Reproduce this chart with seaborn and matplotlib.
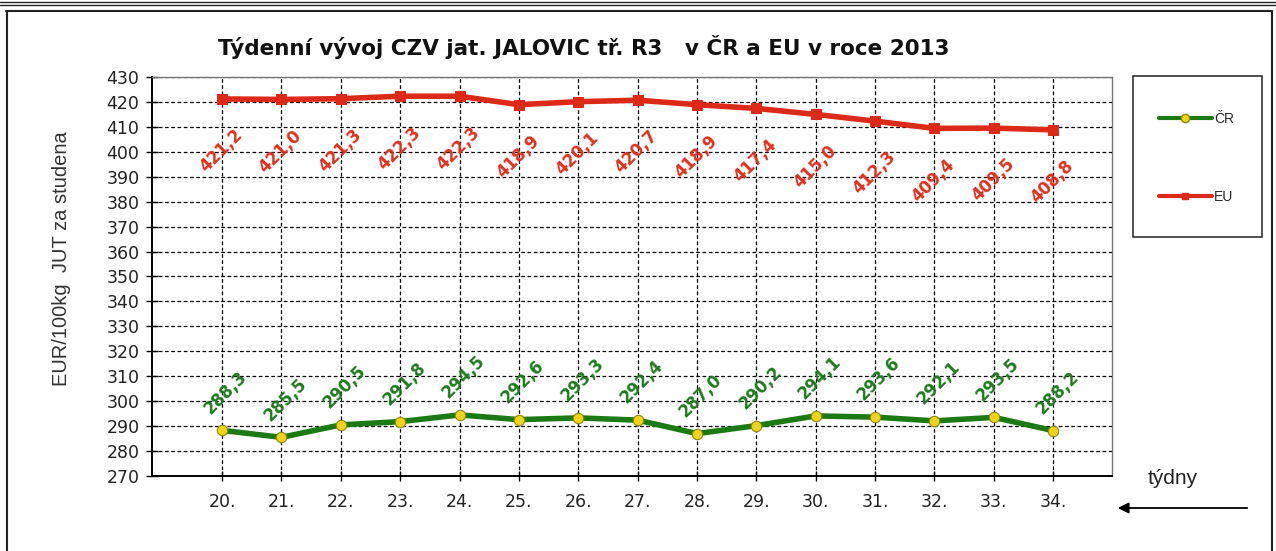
import matplotlib
matplotlib.use("Agg")
import matplotlib.pyplot as plt
from matplotlib.patches import Rectangle, FancyArrowPatch
from matplotlib.lines import Line2D
import seaborn as sns
import pandas as pd

weeks = ["20.", "21.", "22.", "23.", "24.", "25.", "26.", "27.", "28.", "29.", "30.", "31.", "32.", "33.", "34."]
cr_values = [288.3, 285.5, 290.5, 291.8, 294.5, 292.6, 293.3, 292.4, 287.0, 290.2, 294.1, 293.6, 292.1, 293.5, 288.2]
eu_values = [421.2, 421.0, 421.3, 422.3, 422.3, 418.9, 420.1, 420.7, 418.9, 417.4, 415.0, 412.3, 409.4, 409.5, 408.8]
yticks = list(range(270, 431, 10))

title = "Týdenní vývoj CZV jat. JALOVIC tř. R3   v ČR a EU v roce 2013"
ylabel = "EUR/100kg  JUT za studena"
xlabel = "týdny"

sns.set_theme(style="white")
plt.rcParams['font.family'] = ['DejaVu Sans']

W, H = 1276, 551
fig = plt.figure(figsize=(W / 100, H / 100), dpi=100)
fig.patch.set_facecolor("white")

def fx(px):
    return px / W

def fy(py):
    return 1 - py / H

ax = fig.add_axes([fx(152), fy(476), fx(1112) - fx(152), fy(77) - fy(476)])

idx = list(range(len(weeks)))
df_cr = pd.DataFrame({"x": idx, "y": cr_values})
df_eu = pd.DataFrame({"x": idx, "y": eu_values})

green = "#1b7a14"
red = "#dc2a18"

sns.lineplot(data=df_cr, x="x", y="y", ax=ax, color=green, linewidth=4.0,
             marker="o", markersize=7.5, markerfacecolor="#f2d21b",
             markeredgecolor="#8a8a10", markeredgewidth=0.8, zorder=5)
sns.lineplot(data=df_eu, x="x", y="y", ax=ax, color=red, linewidth=4.0,
             marker="s", markersize=6.5, markerfacecolor=red,
             markeredgecolor=red, zorder=5)

for i, v in enumerate(eu_values):
    ax.annotate(f"{v:.1f}".replace(".", ","), (i, v), xytext=(-1, -52),
                textcoords="offset pixels", rotation=45, ha="center", va="center",
                color="#e0301e", fontsize=12, fontweight="bold", zorder=6)
for i, v in enumerate(cr_values):
    ax.annotate(f"{v:.1f}".replace(".", ","), (i, v), xytext=(4, 38),
                textcoords="offset pixels", rotation=45, ha="center", va="center",
                color="#1f7a1f", fontsize=12, fontweight="bold", zorder=6)

ax.set_xlim(-1.18, 14.99)
ax.set_ylim(270, 430)
ax.set_yticks(yticks)
ax.set_yticklabels([str(t) for t in yticks], fontsize=12.5, color="#222222")
ax.set_xticks(idx)
ax.set_xticklabels(weeks, fontsize=12.5, color="#222222")
ax.set_xlabel("")
ax.set_ylabel("")

ax.grid(True, color="black", linestyle=(0, (3, 2)), linewidth=0.9)
ax.set_axisbelow(True)
ax.tick_params(axis="y", which="both", left=True, direction="inout", length=8, width=1, color="black", pad=5)
ax.tick_params(axis="x", which="both", bottom=True, direction="inout", length=7, width=1, color="black", pad=9)
for s in ["left", "bottom"]:
    ax.spines[s].set_color("black")
    ax.spines[s].set_linewidth(1.4)
for s in ["top", "right"]:
    ax.spines[s].set_color("#777777")
    ax.spines[s].set_linewidth(1.0)

fig.text(fx(584), fy(47), title, ha="center", va="center", fontsize=15.5, fontweight="bold", color="#111111")
fig.text(fx(62), fy(259), ylabel, ha="center", va="center", rotation=90, fontsize=14.5,
         family=["Liberation Sans"], color="#333333")
fig.text(fx(1173), fy(479), xlabel, ha="center", va="center", fontsize=15,
         family=["Liberation Sans"], color="#222222")

fig.add_artist(FancyArrowPatch((fx(1250), fy(508)), (fx(1115), fy(508)),
               transform=fig.transFigure, arrowstyle="-|>", mutation_scale=16,
               color="black", linewidth=1.3))

# legend box
fig.add_artist(Rectangle((fx(1133), fy(237)), fx(1262) - fx(1133), fy(76) - fy(237),
                         transform=fig.transFigure, fill=False, edgecolor="#222222", linewidth=1.1))
handles = [
    Line2D([0], [0], color=green, linewidth=3, marker="o", markersize=6,
           markerfacecolor="#f2d21b", markeredgecolor="#8a8a10"),
    Line2D([0], [0], color=red, linewidth=3, marker="s", markersize=5,
           markerfacecolor=red, markeredgecolor=red),
]
fig.legend(handles, ["ČR", "EU"], loc="upper left", bbox_to_anchor=(fx(1152), fy(105)),
           frameon=False, handlelength=3.8, handletextpad=0.15,
           labelspacing=4.6, borderpad=0, prop={"family": ["Liberation Sans"], "size": 10})

# outer frame
fig.add_artist(Line2D([0, 1], [fy(1.5), fy(1.5)], transform=fig.transFigure, color="#222222", linewidth=1.0))
fig.add_artist(Line2D([0, 1], [fy(5), fy(5)], transform=fig.transFigure, color="#222222", linewidth=1.0))
fig.add_artist(Line2D([fx(6), fx(1272)], [fy(10.5), fy(10.5)], transform=fig.transFigure, color="#222222", linewidth=1.5))
fig.add_artist(Line2D([fx(6.5), fx(6.5)], [fy(10.5), 0], transform=fig.transFigure, color="#222222", linewidth=1.5))
fig.add_artist(Line2D([fx(1272), fx(1272)], [fy(10.5), 0], transform=fig.transFigure, color="#222222", linewidth=1.5))

fig.savefig("out.png", dpi=100)
